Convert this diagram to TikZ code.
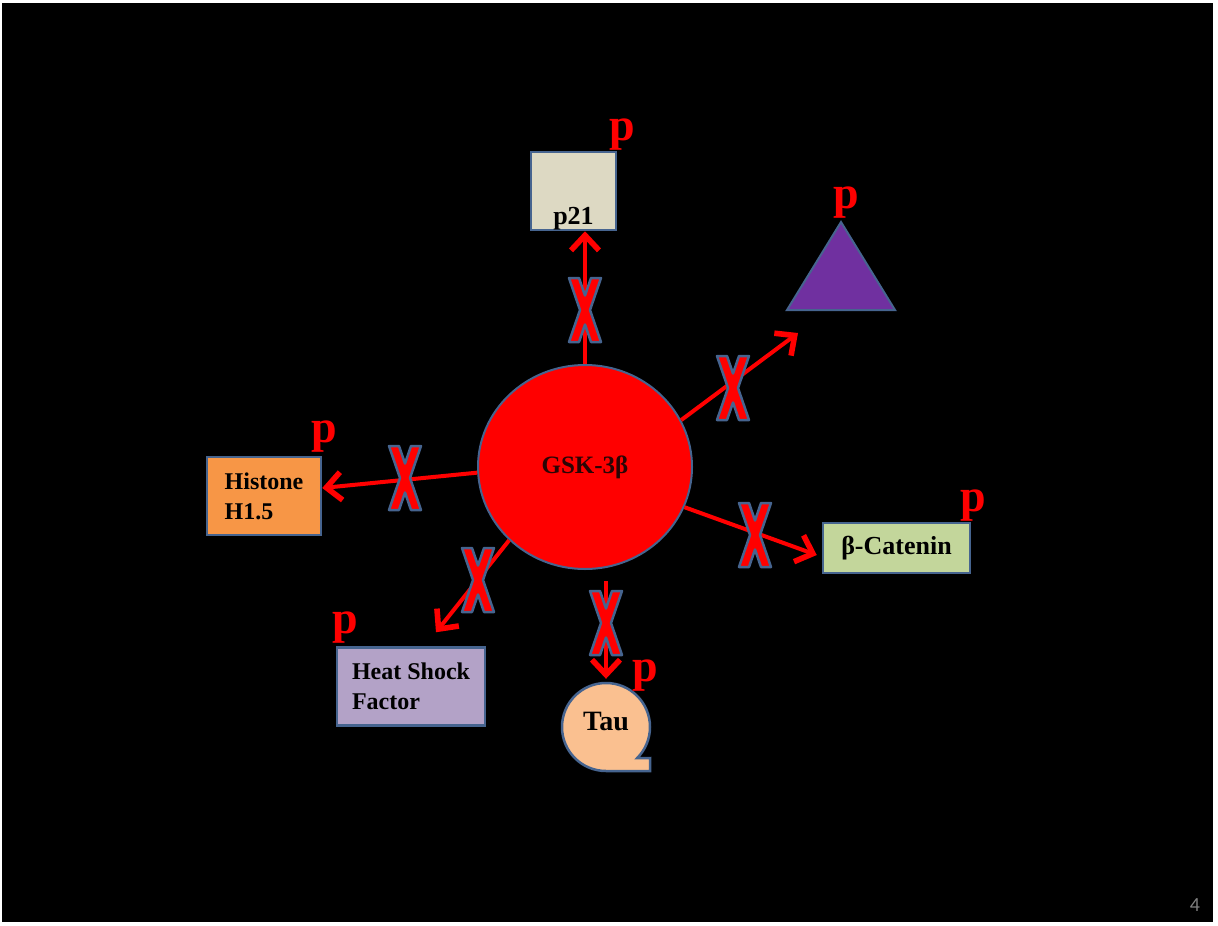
\documentclass[tikz,border=0pt]{standalone}
\usepackage{fontspec}
\setmainfont{Liberation Serif}
\newfontfamily\numfont{Carlito}
\usetikzlibrary{arrows.meta,shapes.geometric}
\definecolor{edge}{HTML}{46648F}
\definecolor{linkred}{HTML}{FF0000}
\definecolor{gsktext}{HTML}{2A0505}
\definecolor{p21fill}{HTML}{DDD9C3}
\definecolor{histfill}{HTML}{F79646}
\definecolor{catfill}{HTML}{C3D69B}
\definecolor{hsffill}{HTML}{B3A2C7}
\definecolor{taufill}{HTML}{FAC090}
\definecolor{trifill}{HTML}{7030A0}

\begin{document}
\begin{tikzpicture}[x=1pt,y=-1pt,font=\bfseries\fontsize{24}{30}\selectfont,
  box/.style={draw=edge,line width=2.5pt,inner sep=0pt,minimum height=78pt},
  link/.style={draw=linkred,line width=4pt,-{Straight Barb[length=15pt,width=28pt,line width=0pt 1.4]}},
  plabel/.style={text=linkred,font=\bfseries\fontsize{46}{46}\selectfont,inner sep=0pt},
  blockx/.pic={\filldraw[fill=linkred,draw=edge,line width=2.5pt,line join=round]
    (-16,-32) -- (-6,-32) -- (0,-14.5) -- (6,-32) -- (16,-32) -- (5,0) -- (16,32) -- (6,32)
    -- (0,14.5) -- (-6,32) -- (-16,32) -- (-5,0) -- cycle;}]
  \useasboundingbox (0,0) rectangle (1218,926);
  \fill[black] (2,3) rectangle (1213,922);
  \node[ellipse,draw=edge,line width=2pt,fill=linkred,minimum width=214pt,minimum height=204pt,inner sep=0pt,text=gsktext,font=\bfseries\fontsize{25}{30}\selectfont] (gsk) at (585,467) {GSK-3β};
  \node[box,fill=p21fill,minimum width=85pt,text height=72pt,text depth=6pt,font=\bfseries\fontsize{26}{30}\selectfont] (p21) at (573.5,191) {p21};
  \node[box,fill=histfill,minimum width=114pt,align=left] (histone) at (264,496) {Histone\\H1.5};
  \node[box,fill=catfill,minimum width=147pt,minimum height=50pt,font=\bfseries\fontsize{26}{30}\selectfont] (catenin) at (896.5,548) {β-Catenin};
  \node[box,fill=hsffill,minimum width=148pt,align=left] (hsf) at (411,686.5) {Heat Shock\\Factor};
  \filldraw[fill=taufill,draw=edge,line width=2.5pt] (606,771) arc[start angle=90,end angle=405,radius=44] -- (650,758) -- (650,771) -- cycle;
  \node[circle,minimum size=88pt,inner sep=0pt,text depth=12pt,font=\bfseries\fontsize{28}{28}\selectfont] (tau) at (606,727) {Tau};
  \filldraw[fill=trifill,draw=edge,line width=2pt] (787,310) -- (841,222) -- (895,310) -- cycle;
  \coordinate (triend) at (798,333);
  \draw[link] (gsk.north) -- (gsk.north |- p21.south);
  \draw[link] (gsk.26) -- (triend);
  \draw[link] (gsk.183) -- ([yshift=8pt]histone.east);
  \draw[link] (gsk.-22) -- ([xshift=-5pt,yshift=-7pt]catenin.west);
  \draw[link] (gsk.224) -- ([xshift=25pt,yshift=14pt]hsf.north);
  \draw[link,shorten <=11pt,shorten >=4pt] (gsk.south -| tau.north) -- (tau.north);
  \pic at (585,310) {blockx}; \pic at (733,388) {blockx}; \pic at (405,478) {blockx};
  \pic at (755,535) {blockx}; \pic at (478,580) {blockx}; \pic at (606,623) {blockx};
  \node[plabel] (pp21) at (622,135) {p};
  \node[plabel] (ptri) at (846,203) {p};
  \node[plabel] (phist) at (324,437) {p};
  \node[plabel] (pcat) at (973,506) {p};
  \node[plabel] (phsf) at (345,628) {p};
  \node[plabel] (ptau) at (645,676) {p};
  \node[text=gray,font=\numfont\fontsize{20}{20}\selectfont] (pagenum) at (1195,905) {4};
\end{tikzpicture}
\end{document}
